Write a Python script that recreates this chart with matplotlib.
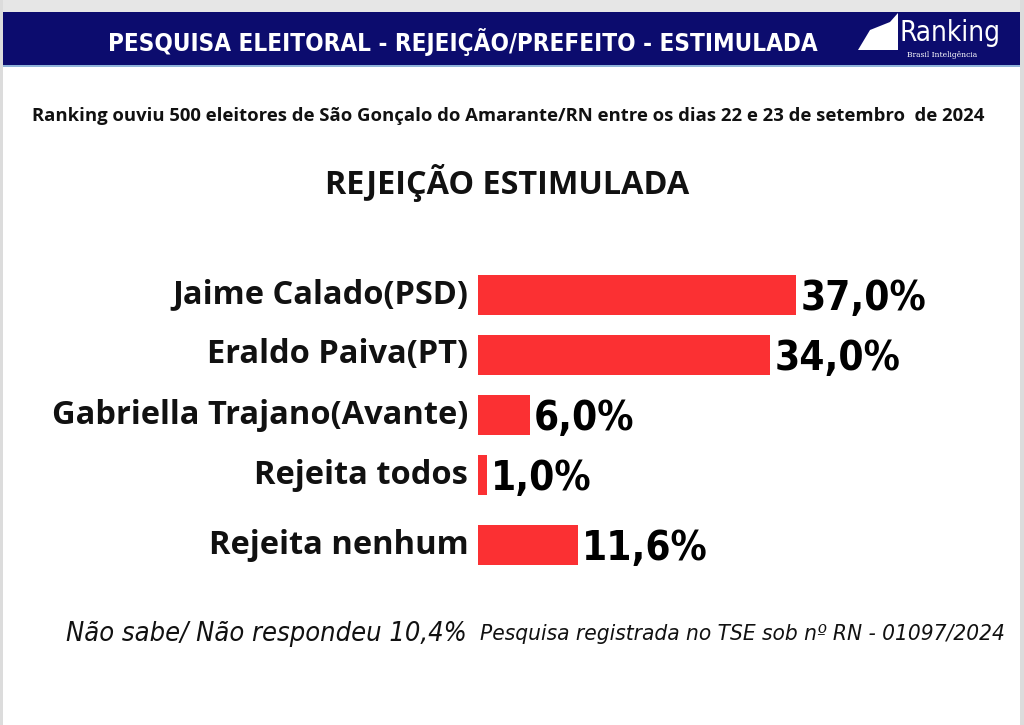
import matplotlib
matplotlib.use("Agg")
import matplotlib.pyplot as plt
from matplotlib.patches import Rectangle, Polygon

# data
categories = [
    "Jaime Calado(PSD)",
    "Eraldo Paiva(PT)",
    "Gabriella Trajano(Avante)",
    "Rejeita todos",
    "Rejeita nenhum",
]
values = [37.0, 34.0, 6.0, 1.0, 11.6]
value_labels = ["37,0%", "34,0%", "6,0%", "1,0%", "11,6%"]

header_title = "PESQUISA ELEITORAL - REJEIÇÃO/PREFEITO - ESTIMULADA"
subtitle = ("Ranking ouviu 500 eleitores de São Gonçalo do Amarante/RN "
            "entre os dias 22 e 23 de setembro  de 2024")
chart_title = "REJEIÇÃO ESTIMULADA"
footer_left = "Não sabe/ Não respondeu 10,4%"
footer_right = "Pesquisa registrada no TSE sob nº RN - 01097/2024"

W, H = 1024, 725
NAVY = "#0c0c6e"
RED = "#fb3033"

fig = plt.figure(figsize=(W / 100, H / 100), dpi=100)
fig.patch.set_facecolor("white")

# page border and header band, drawn in pixel coords
bg = fig.add_axes([0, 0, 1, 1])
bg.set_xlim(0, W)
bg.set_ylim(H, 0)
bg.axis("off")
bg.add_patch(Rectangle((0, 0), W, 12, color="#e6e6e6", lw=0))
bg.add_patch(Rectangle((0, 0), 3, H, color="#dcdcdc", lw=0))
bg.add_patch(Rectangle((W - 4, 0), 4, H, color="#dcdcdc", lw=0))
bg.add_patch(Rectangle((3, 12), W - 7, 53, color=NAVY, lw=0))
bg.add_patch(Rectangle((3, 65), W - 7, 2, color="#8fb4d9", lw=0))

bg.text(463, 42, header_title, color="white", fontsize=17.4,
        fontweight="bold", fontstretch="condensed", family="DejaVu Sans",
        ha="center", va="center")

# logo
bg.add_patch(Polygon([(858, 50), (870, 30), (890, 22), (898, 13), (898, 50)],
                     closed=True, color="white", lw=0))
bg.text(900, 33, "Ranking", color="white", fontsize=20, family="DejaVu Sans",
        fontstretch="condensed", ha="left", va="center")
bg.text(942, 55, "Brasil Inteligência", color="white", fontsize=5.5,
        family="DejaVu Serif", ha="center", va="center")

bg.text(508, 116, subtitle, fontsize=13.3, fontweight="bold",
        family="Open Sans", ha="center", va="center", color="#111111")
bg.text(507, 183, chart_title, fontsize=23.3, fontweight="bold",
        family="Open Sans", ha="center", va="center", color="#111111")

bg.text(266, 634, footer_left, fontsize=19.5, style="italic",
        family="DejaVu Sans", fontstretch="condensed",
        ha="center", va="center", color="#111111")
bg.text(742, 634, footer_right, fontsize=16.2, style="italic",
        family="DejaVu Sans", fontstretch="condensed",
        ha="center", va="center", color="#111111")

# bar rows: 60 px apart, a wider gap before the last row
pos = [float(i) for i in range(len(values))]
pos[-1] += 1 / 6

x0, x1 = 478, 1000
y_top, y_bot = 265, 575
ax = fig.add_axes([x0 / W, 1 - y_bot / H, (x1 - x0) / W, (y_bot - y_top) / H])
ax.set_xlim(0, 37.0 * (x1 - x0) / 318)
ax.set_ylim(pos[-1] + 0.5, -0.5)
ax.axis("off")
ax.patch.set_alpha(0)

ax.barh(pos, values, height=0.68, color=RED, edgecolor="none")

for p, v, lab, name in zip(pos, values, value_labels, categories):
    ax.annotate(lab, (v, p), xytext=(3, -3), textcoords="offset points",
                fontsize=29, fontweight="heavy", family="DejaVu Sans",
                fontstretch="condensed", ha="left", va="center",
                color="black")
    ax.annotate(name, (0, p), xytext=(-7, 0), textcoords="offset points",
                fontsize=23.5, fontweight="bold", family="Open Sans",
                ha="right", va="center", color="#111111")

fig.savefig("out.png", dpi=100)
